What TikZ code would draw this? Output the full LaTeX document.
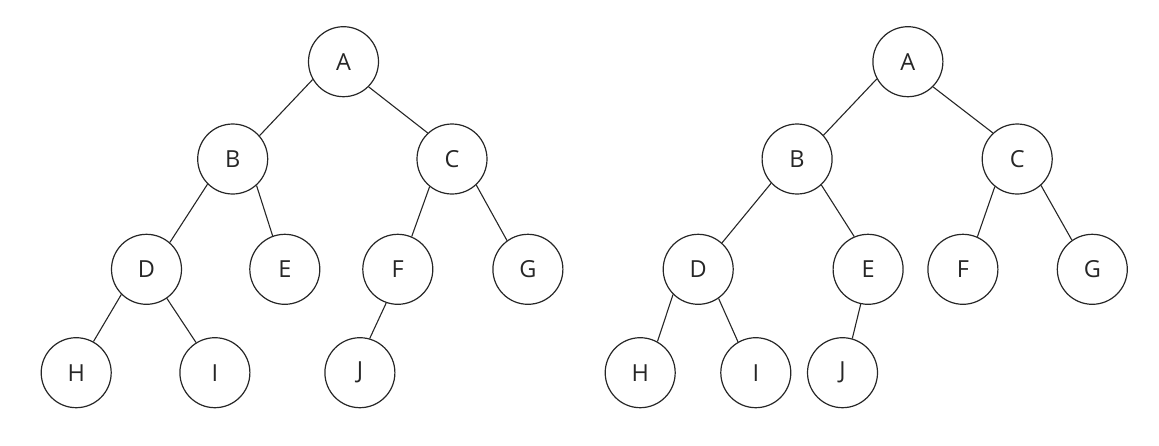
\documentclass[tikz,border=0pt]{standalone}
\usepackage{fontspec}
\setmainfont{Open Sans}
\begin{document}
\begin{tikzpicture}[x=1pt,y=-1pt,
  vtx/.style={circle,draw=black!85,line width=1.2pt,minimum size=70pt,inner sep=0pt,
    font=\fontsize{23.5}{25}\selectfont,text=black!85},
  edge/.style={draw=black!85,line width=1.1pt}]
\useasboundingbox (0,0) rectangle (1159,445);
% left tree
\node[vtx] (lA) at (343.5,61.7) {A};
\node[vtx] (lB) at (232.7,159) {B};
\node[vtx] (lC) at (452,159) {C};
\node[vtx] (lD) at (146.5,269.3) {D};
\node[vtx] (lE) at (284.8,269.3) {E};
\node[vtx] (lF) at (397.8,269.3) {F};
\node[vtx] (lG) at (527.9,269.3) {G};
\node[vtx] (lH) at (76.2,372.7) {H};
\node[vtx] (lI) at (214.9,372.7) {I};
\node[vtx] (lJ) at (359.9,372.7) {J};
\draw[edge] (lA.210) -- (lB.41);
\draw[edge] (lA.315) -- (lC.133);
\draw[edge] (lB.225) -- (lD.49);
\draw[edge] (lB.312) -- (lE.110);
\draw[edge] (lC.231) -- (lF.67);
\draw[edge] (lC.313) -- (lG.126);
\draw[edge] (lD.225) -- (lH.61);
\draw[edge] (lD.305) -- (lI.122);
\draw[edge] (lF.251) -- (lJ.74);
% right tree
\node[vtx] (rA) at (907.9,61.7) {A};
\node[vtx] (rB) at (797.1,159) {B};
\node[vtx] (rC) at (1017.2,159) {C};
\node[vtx] (rD) at (698.2,269.3) {D};
\node[vtx] (rE) at (868.1,269.3) {E};
\node[vtx] (rF) at (962.9,269.3) {F};
\node[vtx] (rG) at (1092.3,269.3) {G};
\node[vtx] (rH) at (640.2,372.7) {H};
\node[vtx] (rI) at (755.8,372.7) {I};
\node[vtx] (rJ) at (842.5,372.7) {J};
\draw[edge] (rA.209) -- (rB.42);
\draw[edge] (rA.315) -- (rC.133);
\draw[edge] (rB.223) -- (rD.48);
\draw[edge] (rB.313) -- (rE.113);
\draw[edge] (rC.231) -- (rF.66);
\draw[edge] (rC.312) -- (rG.125);
\draw[edge] (rD.225) -- (rH.61);
\draw[edge] (rD.305) -- (rI.120);
\draw[edge] (rE.258) -- (rJ.74);
\end{tikzpicture}
\end{document}
